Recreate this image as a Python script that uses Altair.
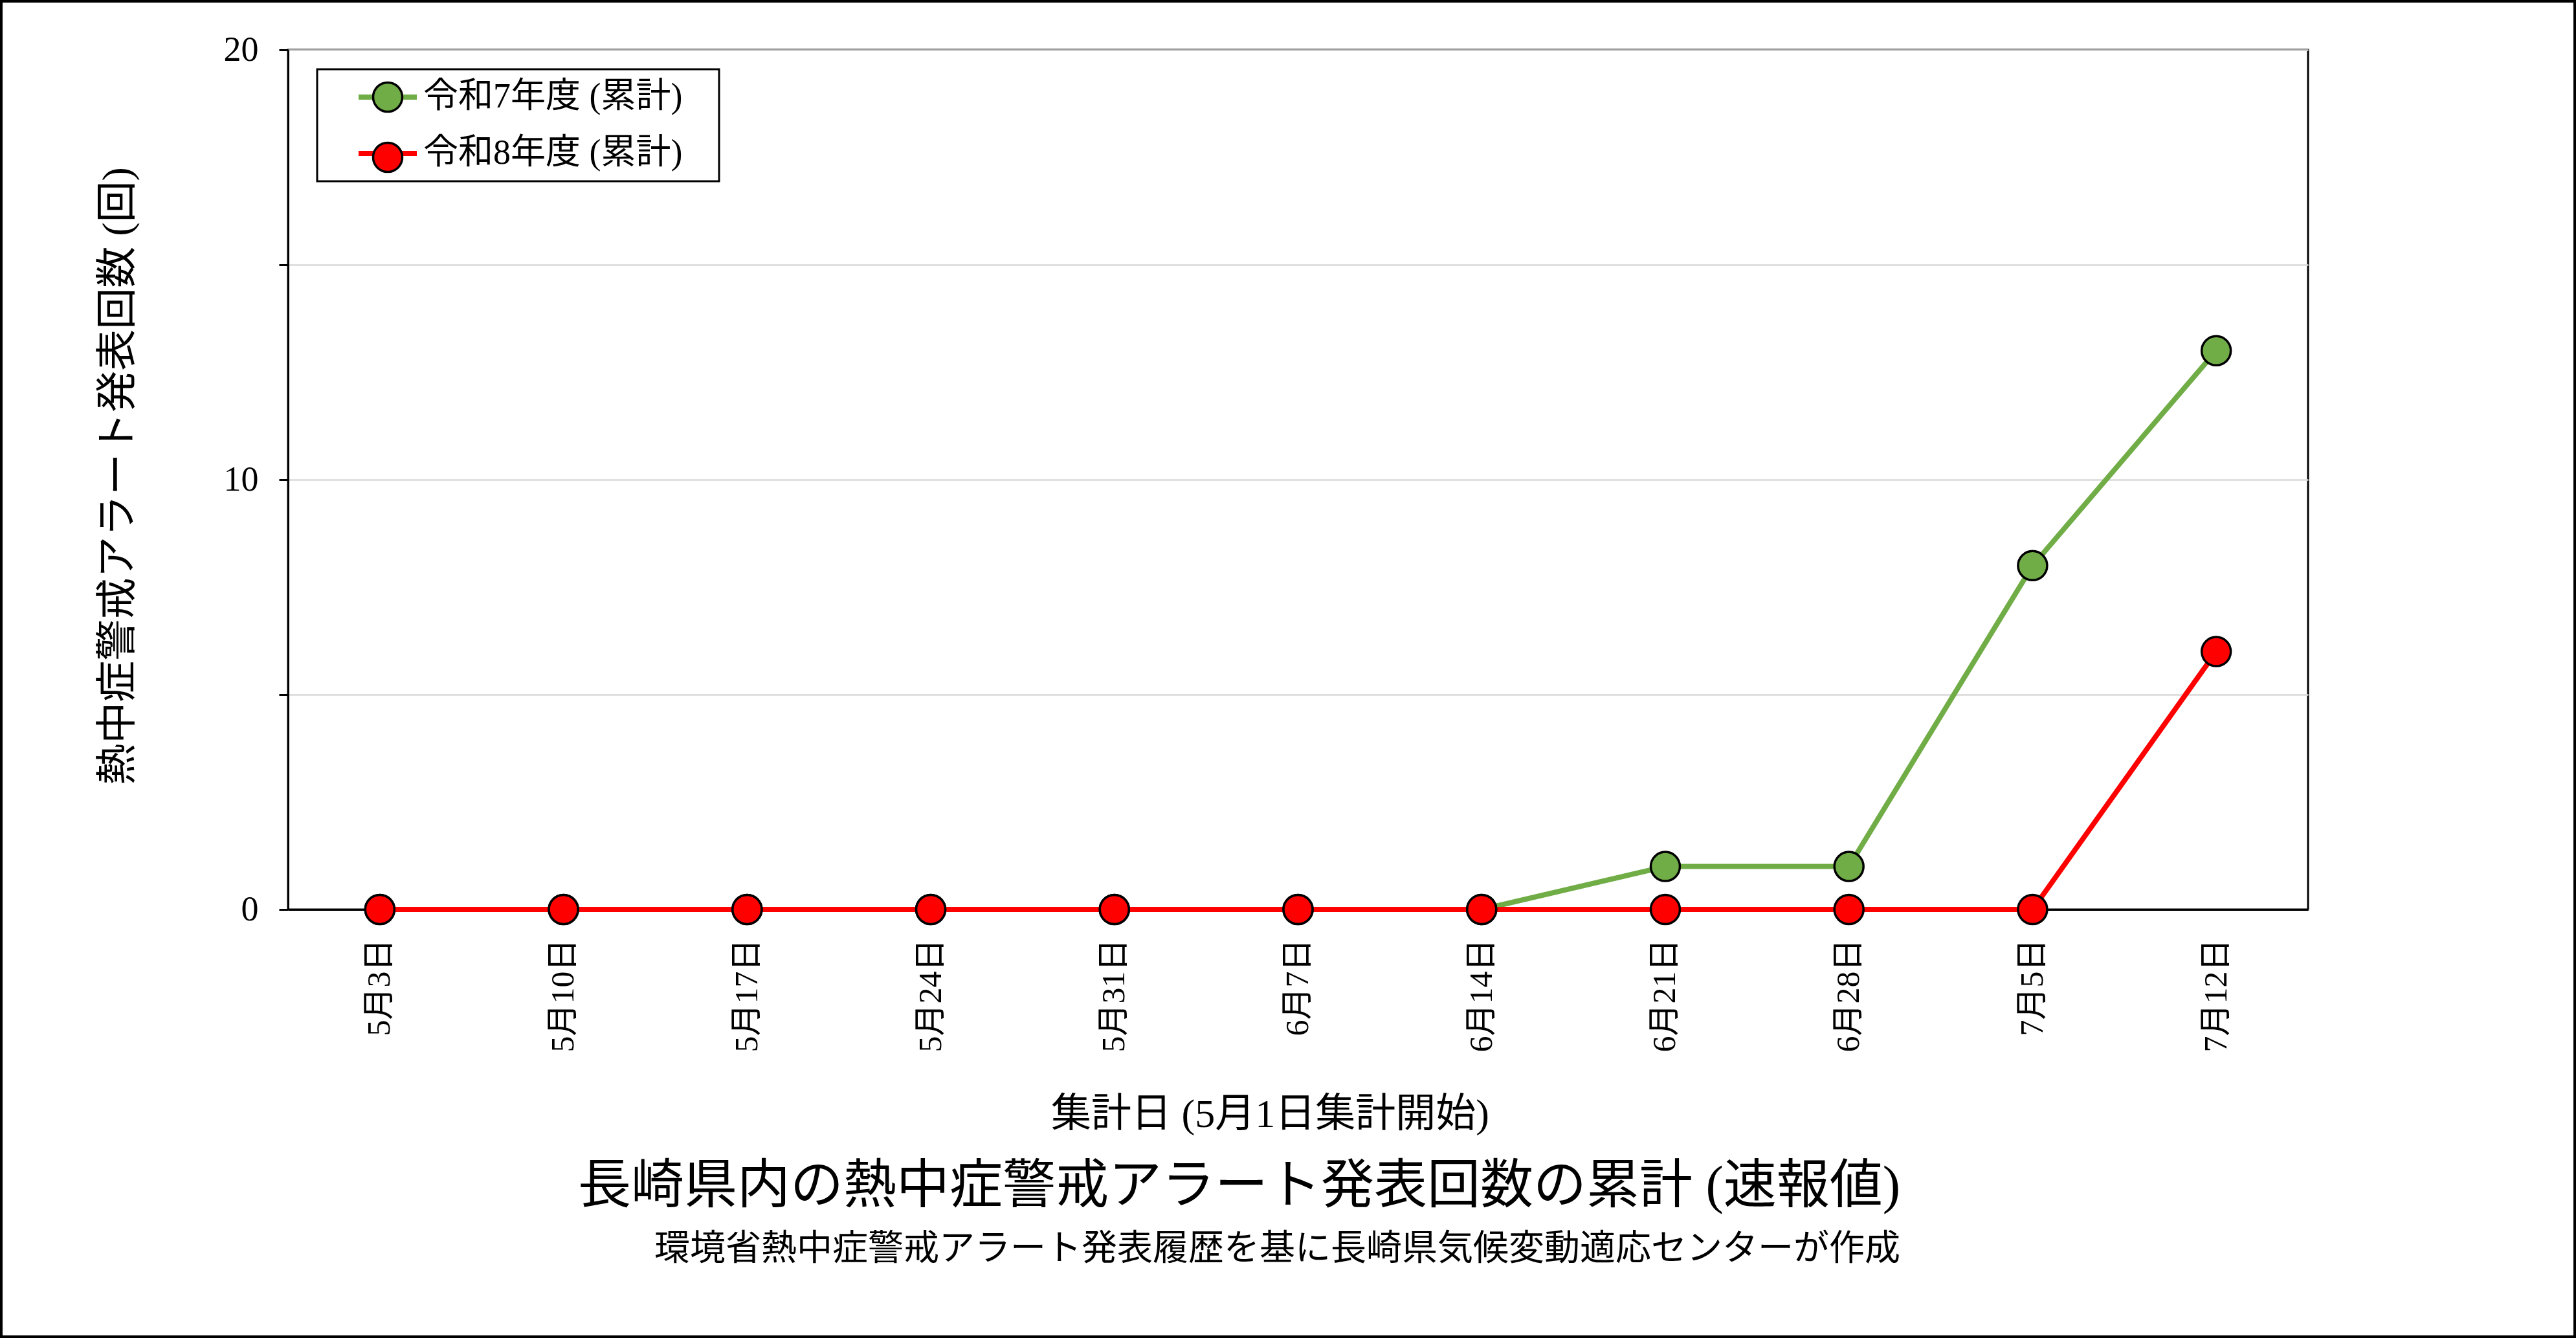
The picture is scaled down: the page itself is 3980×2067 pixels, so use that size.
import altair as alt
import pandas as pd

# ---- data ----
dates = ["5月3日", "5月10日", "5月17日", "5月24日", "5月31日", "6月7日",
         "6月14日", "6月21日", "6月28日", "7月5日", "7月12日"]
r7_values = [0, 0, 0, 0, 0, 0, 0, 1, 1, 8, 13]
r8_values = [0, 0, 0, 0, 0, 0, 0, 0, 0, 0, 6]
series_names = ["令和7年度 (累計)", "令和8年度 (累計)"]
series_colors = ["#70AD47", "#FF0000"]
y_ticks = [0, 5, 10, 15, 20]

df = pd.DataFrame({
    "date": dates * 2,
    "value": r7_values + r8_values,
    "series": [series_names[0]] * len(dates) + [series_names[1]] * len(dates),
})
df["series_pt"] = df["series"]

FONT = "Liberation Serif, Noto Sans CJK JP"

W, H = 3121, 1328
PAD_L, PAD_T = 445, 77
TOTAL_W, TOTAL_H = 3980, 2067

x_enc = alt.X(
    "date:N", sort=dates,
    scale=alt.Scale(type="point", padding=0.5),
    axis=alt.Axis(
        title="集計日 (5月1日集計開始)",
        labelAngle=270, ticks=False, tickSize=0, labelPadding=45,
        labelFont=FONT, labelFontSize=50, labelColor="black",
        domainColor="black", domainWidth=3, grid=False,
        titleFont=FONT, titleFontSize=62, titleFontWeight="normal", titleColor="black",
        titleX=1517, titleY=316, titleBaseline="middle", titleAlign="center", titleAngle=0,
    ),
)
y_enc = alt.Y(
    "value:Q",
    scale=alt.Scale(domain=[0, 20], nice=False, zero=True),
    axis=alt.Axis(
        values=y_ticks,
        labelExpr="datum.value % 10 == 0 ? datum.label : ''",
        tickSize=14, tickWidth=3, tickColor="black",
        domainColor="black", domainWidth=3,
        labelFont=FONT, labelFontSize=54, labelColor="black", labelPadding=32,
        gridColor="#d9d9d9", gridWidth=2.5,
        title="熱中症警戒アラート発表回数 (回)",
        titleFont=FONT, titleFontSize=64, titleFontWeight="normal", titleColor="black",
        titleX=-263, titleY=658, titleAngle=270, titleBaseline="middle", titleAlign="center",
    ),
)

legend_common = dict(
    orient="none", legendX=45, legendY=30, title=None,
    padding=16, rowPadding=33, symbolOffset=66, labelOffset=28,
    labelFont=FONT, labelFontSize=54, labelColor="black", labelLimit=1000,
    labelExpr="datum.label + '\u2800'",
    symbolSize=2025,
)

line = alt.Chart(df).mark_line(strokeWidth=8).encode(
    x=x_enc, y=y_enc,
    stroke=alt.Stroke(
        "series:N",
        scale=alt.Scale(range=series_colors),
        legend=alt.Legend(
            symbolType="M-2,0H2", symbolStrokeWidth=8,
            strokeColor="black", zindex=1, **legend_common,
        ),
    ),
    detail="series:N",
)

points = alt.Chart(df).mark_point(
    shape="circle", filled=True, size=2025, stroke="black", strokeWidth=3.5, opacity=1
).encode(
    x=x_enc, y=y_enc,
    fill=alt.Fill(
        "series_pt:N",
        scale=alt.Scale(range=series_colors),
        legend=alt.Legend(
            symbolType="circle", symbolStrokeColor="black", symbolStrokeWidth=3.5,
            labelOpacity=0, zindex=2, **legend_common,
        ),
    ),
)

frame_df = pd.DataFrame({"k": [0]})
border = alt.Chart(frame_df).mark_rect(fill="transparent", stroke="black", strokeWidth=4).encode(
    x=alt.value(-PAD_L + 2), x2=alt.value(TOTAL_W - PAD_L - 2),
    y=alt.value(-PAD_T + 2), y2=alt.value(TOTAL_H - PAD_T - 2),
)

chart = alt.layer(border, line, points).properties(
    width=W, height=H,
    padding={"left": PAD_L, "top": PAD_T, "right": TOTAL_W - PAD_L - W, "bottom": TOTAL_H - PAD_T - H},
    autosize=alt.AutoSizeParams(type="none"),
    background="white",
    title=alt.TitleParams(
        text="長崎県内の熱中症警戒アラート発表回数の累計 (速報値)",
        subtitle="環境省熱中症警戒アラート発表履歴を基に長崎県気候変動適応センターが作成",
        orient="bottom", anchor="end", frame="group",
        font=FONT, fontSize=82, fontWeight="normal", color="black",
        subtitleFont=FONT, subtitleFontSize=55, subtitleColor="black", subtitlePadding=28,
        offset=0, dx=-630, dy=-274,
    ),
).configure_view(stroke="black", strokeWidth=3).configure_legend(strokeWidth=3)

chart.save("out.html", embed_options={"renderer": "svg", "actions": False})
